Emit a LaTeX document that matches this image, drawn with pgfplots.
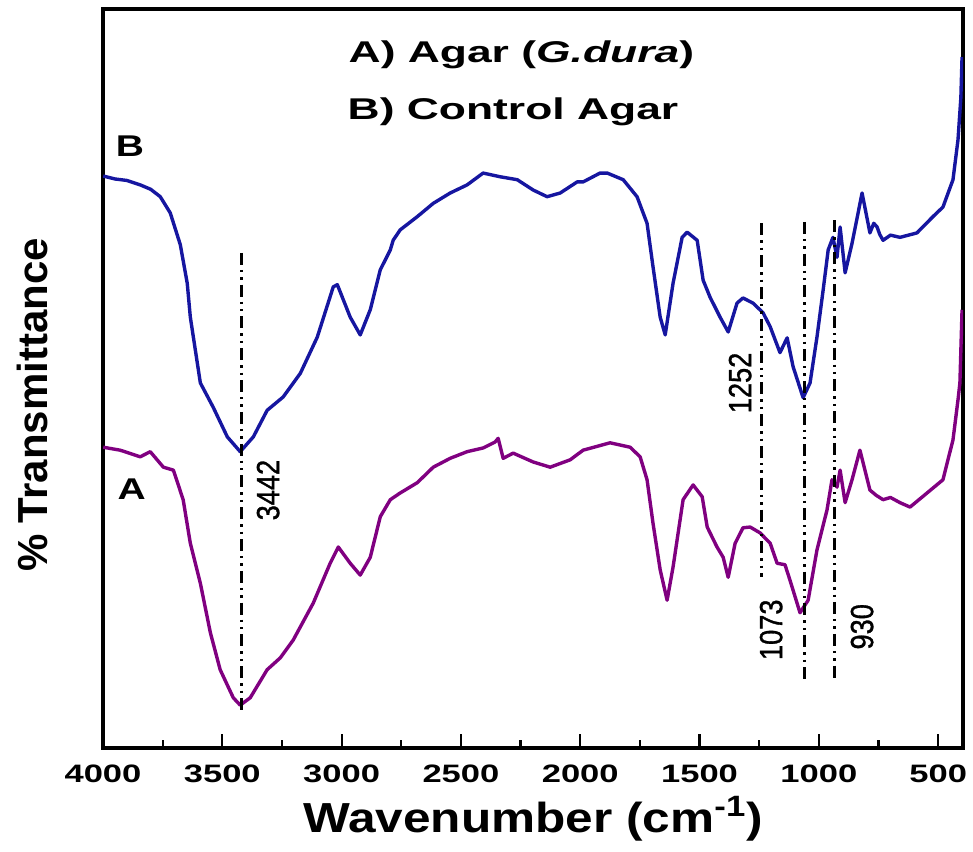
\documentclass[border=0pt]{standalone}
\usepackage{fontspec}
\setmainfont{Liberation Sans}
\newfontfamily\tickfont{Liberation Sans}[FakeStretch=1.37]
\newfontfamily\xlabfont{Liberation Sans}[FakeStretch=1.18]
\newfontfamily\titlefont{Liberation Sans}[FakeStretch=1.48]
\newfontfamily\lblfont{Liberation Sans}[FakeStretch=1.3]
\newfontfamily\peakfont{Liberation Sans}[FakeStretch=0.85, FakeBold=1]
\usepackage{pgfplots}
\pgfplotsset{compat=1.18}

\definecolor{curveB}{RGB}{22,22,160}
\definecolor{curveA}{RGB}{128,0,128}

\tikzset{peakline/.style={black, line width=1.4pt,
  dash pattern=on 6pt off 2.5pt on 1.2pt off 2.5pt on 1.2pt off 2.5pt}}

\begin{document}
\begin{tikzpicture}
\path[use as bounding box] (-51.5pt,-51.5pt) rectangle (435pt,374pt);
\begin{axis}[
    at={(0,0)}, anchor=south west,
    scale only axis,
    width=430pt, height=369.5pt,
    x dir=reverse,
    xmin=396, xmax=4000,
    ymin=0, ymax=100,
    xtick={500,1000,...,4000},
    minor x tick num=1,
    ytick=\empty,
    xtick pos=left,
    tick align=inside,
    major tick length=7pt,
    minor tick length=4pt,
    tick style={black, line width=1.1pt},
    axis line style={line width=1.8pt},
    xticklabel style={font=\tickfont\bfseries\fontsize{12.6}{14}\selectfont, yshift=-5pt},
    /pgf/number format/1000 sep={},
    /pgf/number format/assume math mode=true,
    xlabel={Wavenumber (cm\textsuperscript{-1})},
    xlabel style={font=\xlabfont\bfseries\fontsize{21}{24}\selectfont,
        at={(axis description cs:0.5,0)}, anchor=base, yshift=-42pt},
    ylabel={\% Transmittance},
    ylabel style={font=\bfseries\fontsize{21}{24}\selectfont,
        at={(axis description cs:-0.0814,0.464)}, anchor=center},
]

% B) control agar
\addplot[draw=curveB, line width=1.7pt, line join=round] coordinates {
(3999,77.4)(3950,77.0)(3900,76.8)(3844,76.2)(3800,75.6)(3760,74.6)(3718,72.4)(3676,68.1)(3647,62.9)(3634,58.3)
(3592,49.4)(3538,46.1)(3479,42.1)(3425,40.1)(3370,42.1)(3312,45.7)(3245,47.5)
(3173,50.7)(3102,55.6)(3035,62.4)(3018,62.7)(2964,58.3)(2922,55.9)(2880,59.3)
(2838,64.7)(2796,67.4)(2784,68.7)(2755,70.1)(2683,71.9)(2616,73.7)(2545,75.1)
(2474,76.2)(2407,77.8)(2336,77.3)(2264,76.9)(2197,75.5)(2139,74.6)(2084,75.1)
(2013,76.6)(1988,76.6)(1917,77.8)(1887,77.8)(1820,76.9)(1762,74.6)(1720,71.0)
(1695,65.1)(1665,58.3)(1644,55.9)(1611,62.9)(1573,69.1)(1552,69.8)(1510,68.7)
(1485,63.3)(1456,61.0)(1414,58.3)(1380,56.3)(1343,60.2)(1318,60.9)(1276,60.2)
(1234,58.9)(1204,57.0)(1163,53.5)(1133,55.5)(1108,51.6)(1066,47.4)(1037,49.4)
(1008,55.6)(982,62.0)(961,67.4)(941,69.1)(924,66.4)(911,70.5)(890,64.3)
(861,68.3)(819,75.1)(786,69.7)(770,71.0)(756,70.5)(745,69.5)(731,68.7)(700,69.4)(660,69.1)(589,69.7)
(522,71.9)(480,73.2)(438,76.9)(417,82.3)(405,88.0)(400,93.5)
};

% A) agar (G. dura)
\addplot[draw=curveA, line width=1.7pt, line join=round] coordinates {
(3999,40.7)(3928,40.3)(3844,39.4)(3802,40.1)(3747,38.0)(3705,37.6)(3664,33.6)
(3634,27.7)(3592,22.3)(3550,15.6)(3509,10.6)(3454,6.8)(3425,5.8)(3383,6.8)
(3312,10.6)(3257,12.2)(3203,14.6)(3119,19.6)(3048,25.0)(3014,27.2)(2964,25.0)
(2922,23.4)(2880,25.8)(2838,31.3)(2796,33.6)(2755,34.5)(2683,35.9)(2616,38.0)
(2545,39.2)(2474,40.1)(2407,40.6)(2357,41.4)(2344,41.9)(2323,39.2)(2281,39.9)
(2197,38.7)(2126,38.0)(2042,39.0)(1988,40.3)(1875,41.3)(1791,40.7)(1749,39.4)
(1720,36.3)(1695,30.4)(1665,24.1)(1636,20.0)(1611,24.5)(1569,33.6)(1527,35.6)
(1489,34.0)(1468,29.9)(1427,27.2)(1401,25.8)(1380,23.1)(1351,27.7)(1318,29.8)
(1288,29.9)(1246,29.1)(1204,27.7)(1175,25.0)(1142,24.8)(1121,22.7)(1079,18.3)
(1045,20.0)(1008,26.8)(966,32.2)(945,36.3)(924,35.3)(911,37.6)(890,33.2)
(861,36.3)(828,40.3)(786,34.9)(760,34.2)(731,33.6)(700,33.9)(660,33.2)(618,32.6)(547,34.5)
(480,36.3)(438,41.7)(417,47.1)(409,49.4)(400,59.3)
};

% peak markers
\addplot[peakline] coordinates {(3420,67.0)(3420,4.7)};
\addplot[peakline] coordinates {(1240,71.0)(1240,23.1)};
\addplot[peakline] coordinates {(1060,71.2)(1060,9.2)};
\addplot[peakline] coordinates {(936,71.4)(936,9.5)};

\node[rotate=90, inner sep=0, font=\peakfont\fontsize{16}{18}\selectfont] at (axis cs:3308,34.9) {3442};
\node[rotate=90, inner sep=0, font=\peakfont\fontsize{16}{18}\selectfont] at (axis cs:1330,49.4) {1252};
\node[rotate=90, inner sep=0, font=\peakfont\fontsize{16}{18}\selectfont] at (axis cs:1200,16.0) {1073};
\node[rotate=90, inner sep=0, font=\peakfont\fontsize{16}{18}\selectfont] at (axis cs:819,16.4) {930};

\node[anchor=base west, inner sep=0, font=\titlefont\bfseries\fontsize{15}{18}\selectfont]
  at (axis cs:2972,92.7) {A) Agar (\textit{G.dura})};
\node[anchor=base west, inner sep=0, font=\titlefont\bfseries\fontsize{15}{18}\selectfont]
  at (axis cs:2976,85.1) {B) Control Agar};

\node[anchor=base west, inner sep=0, font=\lblfont\bfseries\fontsize{15}{18}\selectfont]
  at (axis cs:3948,80.0) {B};
\node[anchor=base west, inner sep=0, font=\lblfont\bfseries\fontsize{15}{18}\selectfont]
  at (axis cs:3940,33.6) {A};

\end{axis}
\end{tikzpicture}
\end{document}
